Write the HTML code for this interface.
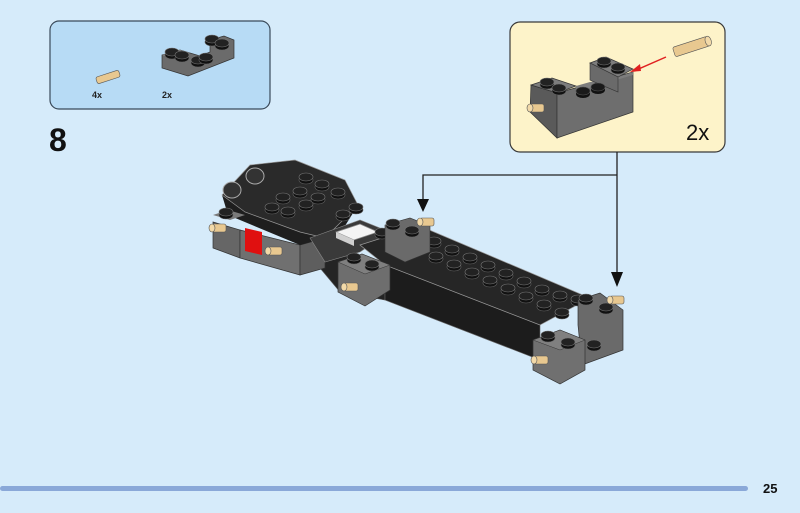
<!DOCTYPE html>
<html><head><meta charset="utf-8"><style>
html,body{margin:0;padding:0;background:#d6ebfa;}
svg{display:block}
</style></head><body>
<svg width="800" height="513" viewBox="0 0 800 513" xmlns="http://www.w3.org/2000/svg" font-family="Liberation Sans, sans-serif">
<defs>
<g id="stud"><ellipse cx="0" cy="2" rx="7" ry="4" fill="#111" stroke="#666" stroke-width="0.6"/><ellipse cx="0" cy="-1" rx="7" ry="4" fill="#222" stroke="#777" stroke-width="0.6"/></g>
<g id="gstud"><ellipse cx="0" cy="2" rx="7" ry="4" fill="#111"/><ellipse cx="0" cy="-1" rx="7" ry="4" fill="#1a1a1a" stroke="#555" stroke-width="0.6"/></g>
<g id="pin"><rect x="-10" y="-4" width="14" height="8" rx="2" fill="#e8c890" stroke="#555" stroke-width="0.6"/><ellipse cx="-10" cy="0" rx="3" ry="4" fill="#f2d9a8" stroke="#555" stroke-width="0.6"/></g>
</defs>
<rect width="800" height="513" fill="#d6ebfa"/>
<!-- parts box -->
<rect x="50" y="21" width="220" height="88" rx="9" fill="#b7dbf5" stroke="#3a4a5a" stroke-width="1.2"/>
<g transform="translate(108,77) rotate(-18)"><rect x="-12" y="-3.5" width="24" height="7" rx="2" fill="#e8c890" stroke="#555" stroke-width="0.6"/></g>
<text x="92" y="98" font-size="9" font-weight="bold" fill="#222">4x</text>
<text x="162" y="98" font-size="9" font-weight="bold" fill="#222">2x</text>
<polygon points="162,55 180,50 200,56 210,52 210,40 224,36 234,40 234,58 188,76 162,68" fill="#6b6b6b" stroke="#333" stroke-width="0.7"/>
<polygon points="162,55 180,50 190,53 172,58" fill="#8a8a8a"/>
<use href="#stud" x="172" y="53"/><use href="#stud" x="182" y="56"/>
<use href="#stud" x="212" y="40"/><use href="#stud" x="222" y="44"/>
<use href="#stud" x="198" y="61"/><use href="#stud" x="206" y="58"/>
<!-- step 8 -->
<text x="49" y="151" font-size="32" font-weight="bold" fill="#111">8</text>
<!-- callout -->
<rect x="510" y="22" width="215" height="130" rx="10" fill="#fdf3c9" stroke="#3a3a3a" stroke-width="1.2"/>
<polygon points="531,85 557,93 557,138 530,112" fill="#5a5a5a" stroke="#333" stroke-width="0.7"/>
<polygon points="557,93 633,72 633,112 557,138" fill="#6e6e6e" stroke="#333" stroke-width="0.7"/>
<polygon points="531,85 552,78 576,86 557,93" fill="#7d7d7d" stroke="#333" stroke-width="0.7"/>
<polygon points="576,86 590,82 618,77 633,72 633,75 576,92" fill="#7d7d7d"/>
<polygon points="590,63 606,57 633,69 618,77" fill="#7d7d7d" stroke="#333" stroke-width="0.7"/>
<polygon points="590,63 618,77 618,92 590,80" fill="#6a6a6a" stroke="#333" stroke-width="0.6"/>
<use href="#stud" x="547" y="83"/><use href="#stud" x="559" y="89"/>
<use href="#stud" x="604" y="62"/><use href="#stud" x="618" y="68"/>
<use href="#gstud" x="583" y="92"/><use href="#gstud" x="598" y="88"/>
<use href="#pin" x="540" y="108"/>
<line x1="666" y1="57" x2="634" y2="71" stroke="#e02020" stroke-width="1.5"/>
<polygon points="630,72 640,64 641,71" fill="#e02020"/>
<g transform="translate(693,46) rotate(-18)"><rect x="-20" y="-5" width="36" height="10" rx="2" fill="#e8c890" stroke="#555" stroke-width="0.6"/><ellipse cx="16" cy="0" rx="3" ry="5" fill="#f2d9a8" stroke="#555" stroke-width="0.6"/></g>
<text x="686" y="140" font-size="22" fill="#111">2x</text>
<!-- arrows -->
<polyline points="617,152 617,276" fill="none" stroke="#222" stroke-width="1.3"/>
<polygon points="611,272 623,272 617,287" fill="#111"/>
<polyline points="617,175 423,175 423,200" fill="none" stroke="#222" stroke-width="1.3"/>
<polygon points="417,199 429,199 423,212" fill="#111"/>
<!-- model: connector dark mass -->
<polygon points="300,240 385,262 385,300 340,292 320,268 300,272" fill="#242424" stroke="#555" stroke-width="0.6"/>
<!-- left chassis -->
<polygon points="213,222 240,230 240,258 213,248" fill="#666" stroke="#333" stroke-width="0.7"/>
<polygon points="240,230 300,245 300,275 240,258" fill="#707070" stroke="#333" stroke-width="0.7"/>
<polygon points="245,228 262,232 262,255 245,251" fill="#e01010"/>
<polygon points="300,245 325,238 325,268 300,275" fill="#5e5e5e" stroke="#333" stroke-width="0.7"/>
<polygon points="222,195 228,215 300,245 325,238 330,250 358,205" fill="#1e1e1e"/>
<polygon points="222,195 250,165 295,160 345,180 358,205 325,238 300,232 245,212" fill="#2a2a2a" stroke="#999" stroke-width="0.7"/>
<ellipse cx="232" cy="190" rx="9" ry="8" fill="#333" stroke="#aaa"/>
<ellipse cx="255" cy="176" rx="9" ry="8" fill="#333" stroke="#aaa"/>
<polygon points="213,215 228,210 245,215 230,220" fill="#7a7a7a"/>
<use href="#stud" x="226" y="213"/>
<use href="#stud" x="272" y="208"/><use href="#stud" x="288" y="212"/><use href="#stud" x="283" y="198"/>
<use href="#stud" x="300" y="192"/><use href="#stud" x="306" y="205"/><use href="#stud" x="318" y="198"/>
<use href="#stud" x="306" y="178"/><use href="#stud" x="322" y="185"/><use href="#stud" x="338" y="193"/>
<use href="#stud" x="343" y="215"/><use href="#stud" x="356" y="208"/>
<use href="#pin" x="222" y="228"/><use href="#pin" x="278" y="251"/>
<!-- connector -->
<polygon points="310,238 360,220 390,232 360,252 325,262" fill="#3a3a3a" stroke="#888" stroke-width="0.6"/>
<polygon points="336,232 360,224 378,232 354,240" fill="#f4f4f4" stroke="#888" stroke-width="0.7"/>
<polygon points="336,232 354,240 354,246 336,238" fill="#cfcfcf"/>
<!-- beam -->
<polygon points="385,265 540,325 540,360 385,300" fill="#1c1c1c" stroke="#666" stroke-width="0.6"/>
<polygon points="360,245 420,226 590,298 540,325 385,265" fill="#262626" stroke="#999" stroke-width="0.7"/>
<g>
<use href="#stud" x="382" y="233"/><use href="#stud" x="400" y="241"/><use href="#stud" x="418" y="249"/><use href="#stud" x="436" y="257"/><use href="#stud" x="454" y="265"/><use href="#stud" x="472" y="273"/><use href="#stud" x="490" y="281"/><use href="#stud" x="508" y="289"/><use href="#stud" x="526" y="297"/><use href="#stud" x="544" y="305"/><use href="#stud" x="562" y="313"/><use href="#stud" x="578" y="300"/>
<use href="#stud" x="398" y="226"/><use href="#stud" x="416" y="234"/><use href="#stud" x="434" y="242"/><use href="#stud" x="452" y="250"/><use href="#stud" x="470" y="258"/><use href="#stud" x="488" y="266"/><use href="#stud" x="506" y="274"/><use href="#stud" x="524" y="282"/><use href="#stud" x="542" y="290"/><use href="#stud" x="560" y="296"/>
</g>
<!-- upper gray brick near arrow -->
<polygon points="385,225 410,218 430,226 430,252 405,262 385,252" fill="#6a6a6a" stroke="#333" stroke-width="0.6"/>
<use href="#stud" x="393" y="224"/><use href="#stud" x="412" y="231"/>
<use href="#pin" x="430" y="222"/>
<!-- middle gray brick -->
<polygon points="338,262 362,254 390,265 390,290 365,306 338,292" fill="#6e6e6e" stroke="#333" stroke-width="0.7"/>
<polygon points="338,262 362,254 390,265 365,274" fill="#7f7f7f" stroke="#333" stroke-width="0.5"/>
<use href="#stud" x="354" y="258"/><use href="#stud" x="372" y="265"/>
<use href="#pin" x="354" y="287"/>
<!-- right end -->
<polygon points="578,300 600,293 623,310 623,350 582,365 578,325" fill="#6a6a6a" stroke="#333" stroke-width="0.7"/>
<polygon points="533,340 560,330 585,340 585,370 560,384 533,370" fill="#707070" stroke="#333" stroke-width="0.7"/>
<polygon points="533,340 560,330 585,340 560,350" fill="#808080" stroke="#333" stroke-width="0.5"/>
<use href="#stud" x="548" y="336"/><use href="#stud" x="568" y="343"/>
<use href="#stud" x="586" y="299"/><use href="#stud" x="606" y="308"/><use href="#stud" x="594" y="345"/>
<use href="#pin" x="620" y="300"/><use href="#pin" x="544" y="360"/>
<!-- footer -->
<rect x="0" y="486" width="748" height="5" rx="2.5" fill="#8aa8d8"/>
<text x="763" y="493" font-size="13" font-weight="bold" fill="#111">25</text>
</svg>
</body></html>
